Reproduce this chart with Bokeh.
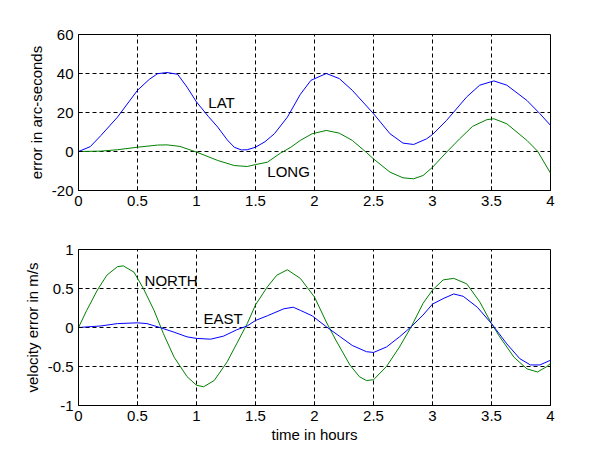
from bokeh.plotting import figure
from bokeh.layouts import column
from bokeh.models import Range1d, FixedTicker
from bokeh.embed import file_html
from bokeh.resources import INLINE
from bokeh.core.properties import value

# ---------------- data ----------------
# top panel: position error (arc-seconds) vs time (hours)
lat_t = [0, 0.1, 0.19, 0.33, 0.5, 0.6, 0.67, 0.75, 0.84, 0.92, 1.0, 1.1, 1.18, 1.26, 1.32, 1.38,
         1.43, 1.5, 1.58, 1.66, 1.77, 1.88, 1.97, 2.1, 2.21, 2.32, 2.5, 2.64, 2.75, 2.84, 2.95,
         3.0, 3.12, 3.29, 3.4, 3.52, 3.63, 3.8, 3.91, 4.0]
lat = [0, 2.5, 8.2, 17.6, 31.4, 37, 39.9, 40.5, 39.6, 33, 25.4, 18, 12.5, 6, 2.2, 0.8,
       0.9, 2.2, 5, 9.1, 17.6, 29.3, 36.5, 40, 37.4, 31.4, 19.4, 9.1, 4.3, 3.6, 6.5,
       8.7, 16, 28, 34, 36.2, 34, 26.2, 19.4, 13.4]

long_t = [0, 0.19, 0.33, 0.5, 0.67, 0.75, 0.86, 1.0, 1.18, 1.32, 1.43, 1.5, 1.6, 1.71, 1.8,
          1.88, 1.98, 2.1, 2.21, 2.32, 2.44, 2.5, 2.64, 2.75, 2.84, 2.92, 3.0, 3.12, 3.23,
          3.34, 3.46, 3.52, 3.63, 3.8, 3.89, 4.0]
long_ = [0, 0.2, 0.9, 2.2, 3.3, 3.4, 2.6, -0.3, -4.6, -7.2, -7.7, -6.7, -5.5, -0.9, 2.2,
         5.7, 9.1, 10.8, 9.4, 5.7, -0.5, -3.8, -10.6, -13.5, -14, -12.3, -8.1, -0.3, 6.5,
         12.9, 16.3, 16.8, 14.2, 5.7, 0.2, -11.1]

# bottom panel: velocity error (m/s) vs time (hours)
north_t = [0, 0.07, 0.16, 0.24, 0.33, 0.38, 0.47, 0.55, 0.64, 0.72, 0.81, 0.92, 1.0, 1.06,
           1.15, 1.26, 1.34, 1.43, 1.5, 1.6, 1.68, 1.77, 1.88, 2.0, 2.1, 2.18, 2.3, 2.38,
           2.44, 2.5, 2.61, 2.72, 2.82, 2.92, 3.0, 3.09, 3.18, 3.29, 3.4, 3.5, 3.57, 3.69,
           3.8, 3.89, 3.97, 4.0]
north = [0, 0.22, 0.48, 0.67, 0.78, 0.79, 0.71, 0.5, 0.22, -0.08, -0.38, -0.63, -0.74, -0.76,
         -0.68, -0.44, -0.21, 0.05, 0.29, 0.52, 0.67, 0.74, 0.63, 0.39, 0.07, -0.16, -0.48, -0.63,
         -0.68, -0.67, -0.5, -0.25, 0.01, 0.31, 0.48, 0.61, 0.63, 0.56, 0.33, 0.05, -0.12, -0.38,
         -0.53, -0.57, -0.5, -0.46]

east_t = [0, 0.19, 0.33, 0.5, 0.58, 0.69, 0.81, 0.92, 1.0, 1.12, 1.23, 1.34, 1.43, 1.5, 1.6,
          1.74, 1.82, 1.88, 1.98, 2.1, 2.21, 2.32, 2.44, 2.5, 2.61, 2.72, 2.82, 2.92, 3.0,
          3.09, 3.18, 3.26, 3.38, 3.5, 3.63, 3.74, 3.83, 3.91, 4.0]
east = [0, 0.02, 0.05, 0.06, 0.05, 0, -0.06, -0.12, -0.14, -0.15, -0.11, -0.03, 0.02, 0.09, 0.15,
        0.24, 0.26, 0.22, 0.15, 0.01, -0.11, -0.23, -0.31, -0.32, -0.25, -0.12, 0.01, 0.16, 0.3,
        0.37, 0.43, 0.4, 0.26, 0.05, -0.21, -0.4, -0.48, -0.48, -0.42]

x_ticks = [0, 0.5, 1, 1.5, 2, 2.5, 3, 3.5, 4]
x_tick_labels = ["0", "0.5", "1", "1.5", "2", "2.5", "3", "3.5", "4"]
top_y_ticks = [-20, 0, 20, 40, 60]
top_y_tick_labels = ["-20", "0", "20", "40", "60"]
bot_y_ticks = [-1, -0.5, 0, 0.5, 1]
bot_y_tick_labels = ["-1", "-0.5", "0", "0.5", "1"]

top_labels = ["LAT", "LONG"]
top_label_x = [1.10, 1.60]
top_label_y = [25, -10]
bot_labels = ["NORTH", "EAST"]
bot_label_x = [0.56, 1.06]
bot_label_y = [0.6, 0.12]

FONT = "Liberation Sans"
FS = "15px"
BLUE = "#0000ff"
GREEN = "#008000"


def style(p, yt, ylab):
    p.background_fill_color = "white"
    p.border_fill_color = "white"
    p.outline_line_color = "black"
    p.outline_line_width = 1
    p.outline_line_alpha = 1
    p.xaxis.ticker = FixedTicker(ticks=x_ticks)
    p.yaxis.ticker = FixedTicker(ticks=yt)
    p.xaxis.major_label_overrides = {float(t): s for t, s in zip(x_ticks, x_tick_labels)}
    p.yaxis.major_label_overrides = {float(t): s for t, s in zip(yt, ylab)}
    for ax in (p.xaxis, p.yaxis):
        ax.axis_line_color = "black"
        ax.major_tick_line_color = "black"
        ax.major_tick_in = 4
        ax.major_tick_out = 0
        ax.minor_tick_line_color = None
        ax.major_label_text_font = FONT
        ax.major_label_text_font_size = FS
        ax.major_label_text_color = "black"
        ax.axis_label_text_font = FONT
        ax.axis_label_text_font_size = FS
        ax.axis_label_text_font_style = "normal"
        ax.axis_label_text_color = "black"
    p.yaxis.major_label_standoff = 5
    p.yaxis.axis_label_standoff = 4
    for g in (p.xgrid, p.ygrid):
        g.grid_line_color = "black"
        g.grid_line_dash = "4 3"
        g.grid_line_width = 1
        g.grid_line_alpha = 1


top = figure(width=592, height=220, output_backend="svg", toolbar_location=None,
             x_range=Range1d(0, 4), y_range=Range1d(-20, 60),
             min_border_left=78, min_border_right=42, min_border_top=34, min_border_bottom=30)
style(top, top_y_ticks, top_y_tick_labels)
top.xaxis.major_label_standoff = 5
top.yaxis.axis_label = "error in arc-seconds"
top.line(lat_t, lat, line_color=BLUE, line_width=1)
top.line(long_t, long_, line_color=GREEN, line_width=1)
top.text(x=top_label_x, y=top_label_y, text=top_labels, text_font=value(FONT),
         text_font_size=FS, text_color="black", text_align="left", text_baseline="middle")

bot = figure(width=592, height=228, output_backend="svg", toolbar_location=None,
             x_range=Range1d(0, 4), y_range=Range1d(-1, 1),
             min_border_left=78, min_border_right=42, min_border_top=29, min_border_bottom=43)
style(bot, bot_y_ticks, bot_y_tick_labels)
bot.xaxis.major_label_standoff = 5
bot.xaxis.axis_label_standoff = 2
bot.xaxis.axis_label = "time in hours"
bot.yaxis.axis_label = "velocity error in m/s"
bot.line(north_t, north, line_color=GREEN, line_width=1)
bot.line(east_t, east, line_color=BLUE, line_width=1)
bot.text(x=bot_label_x, y=bot_label_y, text=bot_labels, text_font=value(FONT),
         text_font_size=FS, text_color="black", text_align="left", text_baseline="middle")

layout = column(top, bot, spacing=0)
open("out.html", "w").write(file_html(layout, INLINE))
